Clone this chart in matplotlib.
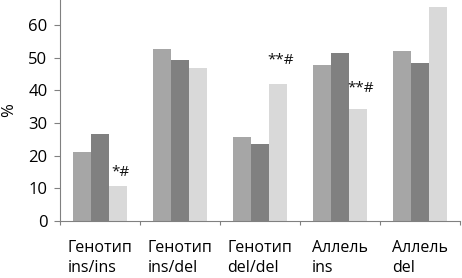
import matplotlib.pyplot as plt
import numpy as np

plt.rcParams['font.family'] = ['Open Sans', 'DejaVu Sans']

categories = ["Генотип\nins/ins", "Генотип\nins/del", "Генотип\ndel/del",
              "Аллель\nins", "Аллель\ndel"]
series_a = [21.2, 52.6, 25.8, 47.7, 52.1]
series_b = [26.5, 49.3, 23.5, 51.5, 48.3]
series_c = [10.6, 46.7, 41.9, 34.4, 65.6]
marks_c = ["*#", "", "**#", "**#", ""]

colors = ["#a6a6a6", "#808080", "#d9d9d9"]


def main() -> None:
    fig = plt.figure(figsize=(4.62, 2.78), dpi=100)
    ax = fig.add_axes([60 / 462, 57.3 / 278, 400 / 462, 220.7 / 278])

    x = np.arange(len(categories))
    w = 0.225
    for i, (vals, col) in enumerate(zip([series_a, series_b, series_c], colors)):
        ax.bar(x + (i - 1) * w, vals, width=w, color=col, linewidth=0)

    offsets = [1.8, 0, 4.8, 3.8, 0]
    for xi, v, m, off in zip(x, series_c, marks_c, offsets):
        if m:
            ax.text(xi + w + 0.03, v + off, m, ha="center", va="bottom",
                    fontsize=11, color="#111111")

    ax.set_xlim(-0.5, len(categories) - 0.5)
    ax.set_ylim(0, 67.7)
    ax.set_yticks([0, 10, 20, 30, 40, 50, 60])
    ax.set_xticks(np.arange(len(categories) + 1) - 0.5)
    ax.set_xticklabels([])
    ax.set_xticks(x, minor=True)
    ax.set_xticklabels(categories, minor=True, multialignment="left",
                       fontsize=11.5, linespacing=1.35)
    ax.tick_params(axis="x", which="minor", length=0, pad=14)
    ax.tick_params(axis="x", which="major", length=3, color="#808080")
    ax.tick_params(axis="y", length=4, color="#808080", labelsize=12, pad=5)
    for s in ["top", "right"]:
        ax.spines[s].set_visible(False)
    for s in ["left", "bottom"]:
        ax.spines[s].set_color("#808080")
        ax.spines[s].set_linewidth(0.8)
    ax.set_ylabel("%", fontsize=12, labelpad=8)

    fig.savefig("out.png", dpi=100)


main()
